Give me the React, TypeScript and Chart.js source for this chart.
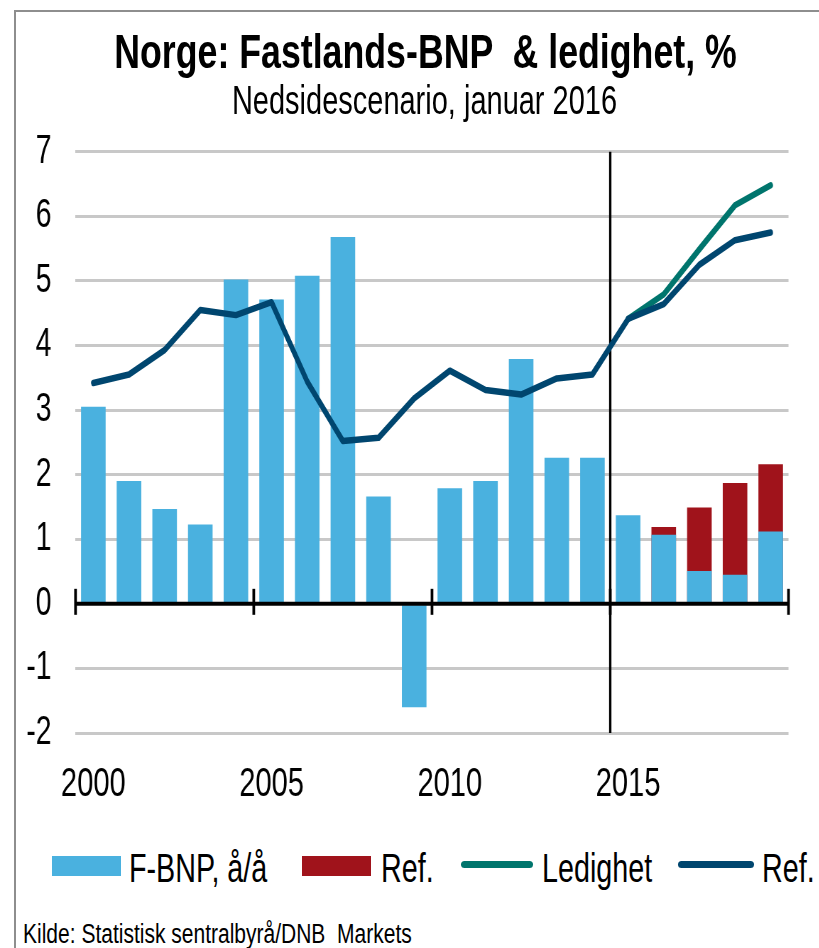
import React, { useEffect, useRef } from "react";
import { Chart, registerables } from "chart.js";

Chart.register(...registerables);

// ---- data ----
const years = [
  "2000", "2001", "2002", "2003", "2004", "2005", "2006", "2007", "2008", "2009",
  "2010", "2011", "2012", "2013", "2014", "2015", "2016", "2017", "2018", "2019",
];
const gdpGrowth = [
  3.05, 1.9, 1.47, 1.23, 5.02, 4.71, 5.08, 5.68, 1.66, -1.6,
  1.79, 1.9, 3.79, 2.26, 2.26, 1.37, 1.07, 0.51, 0.45, 1.12,
];
const gdpGrowthRef = [
  null, null, null, null, null, null, null, null, null, null,
  null, null, null, null, null, null, 1.19, 1.49, 1.87, 2.16,
];
const unemployment = [
  null, null, null, null, null, null, null, null, null, null,
  null, null, null, null, null, 4.41, 4.79, 5.49, 6.17, 6.48,
];
const unemploymentRef = [
  3.42, 3.55, 3.93, 4.55, 4.47, 4.67, 3.44, 2.52, 2.57, 3.18,
  3.61, 3.31, 3.24, 3.49, 3.55, 4.41, 4.64, 5.25, 5.63, 5.75,
];
const labelYears = ["2000", "2005", "2010", "2015"];
const forecastStart = "2015";
const yMin = -2;
const yMax = 7;
const yStep = 1;

const titleText = "Norge: Fastlands-BNP  & ledighet, %";
const subtitleText = "Nedsidescenario, januar 2016";
const sourceText = "Kilde: Statistisk sentralbyrå/DNB  Markets";
const legendLabels = ["F-BNP, å/å", "Ref.", "Ledighet", "Ref."];

// ---- styles ----
const FONT = '"Liberation Sans", Arial, Helvetica, sans-serif';
const S = 0.71; // horizontal squeeze of the chart drawing
const CW = 1154;
const CH = 820;
const BLUE = "#4AB1DF";
const RED = "#A0131B";
const TEAL = "#00756D";
const NAVY = "#00466F";

const overlayPlugin = {
  id: "overlay",
  beforeDatasetsDraw(chart: any) {
    const { ctx, chartArea, scales } = chart;
    const x = scales.x;
    const idx = years.indexOf(forecastStart);
    const half = (x.getPixelForValue(1) - x.getPixelForValue(0)) / 2;
    const bx = x.getPixelForValue(idx) - half;
    ctx.save();
    ctx.strokeStyle = "#000";
    ctx.lineWidth = 3.3;
    ctx.beginPath();
    ctx.moveTo(bx, chartArea.top);
    ctx.lineTo(bx, chartArea.bottom);
    ctx.stroke();
    ctx.restore();
  },
  afterDatasetsDraw(chart: any) {
    const { ctx, chartArea, scales } = chart;
    const x = scales.x;
    const y = scales.y;
    const y0 = y.getPixelForValue(0);
    const half = (x.getPixelForValue(1) - x.getPixelForValue(0)) / 2;
    ctx.save();
    ctx.strokeStyle = "#000";
    ctx.lineWidth = 4;
    ctx.beginPath();
    ctx.moveTo(chartArea.left, y0);
    ctx.lineTo(chartArea.right, y0);
    ctx.stroke();
    ctx.lineWidth = 3.8;
    for (let i = 0; i <= years.length; i += 5) {
      const px =
        i < years.length
          ? x.getPixelForValue(i) - half
          : x.getPixelForValue(years.length - 1) + half;
      ctx.beginPath();
      ctx.moveTo(px, y0 - 15);
      ctx.lineTo(px, y0 + 11);
      ctx.stroke();
    }
    ctx.restore();
  },
};

function ChartCanvas() {
  const ref = useRef<HTMLCanvasElement | null>(null);
  useEffect(() => {
    if (!ref.current) return;
    const chart = new Chart(ref.current, {
      type: "bar",
      data: {
        labels: years,
        datasets: [
          {
            type: "bar",
            label: legendLabels[0],
            data: gdpGrowth,
            backgroundColor: BLUE,
            grouped: false,
            order: 2,
            categoryPercentage: 1,
            barPercentage: 0.69,
          } as any,
          {
            type: "bar",
            label: legendLabels[1],
            data: gdpGrowthRef,
            backgroundColor: RED,
            grouped: false,
            order: 3,
            categoryPercentage: 1,
            barPercentage: 0.69,
          } as any,
          {
            type: "line",
            label: legendLabels[2],
            data: unemployment,
            borderColor: TEAL,
            backgroundColor: TEAL,
            borderWidth: 6.5,
            pointRadius: 0,
            tension: 0,
            borderJoinStyle: "round",
            borderCapStyle: "round",
            order: 1,
          } as any,
          {
            type: "line",
            label: legendLabels[3],
            data: unemploymentRef,
            borderColor: NAVY,
            backgroundColor: NAVY,
            borderWidth: 6.5,
            pointRadius: 0,
            tension: 0,
            borderJoinStyle: "round",
            borderCapStyle: "round",
            order: 0,
          } as any,
        ],
      },
      options: {
        animation: false,
        responsive: true,
        maintainAspectRatio: false,
        layout: { padding: { top: 151.7, right: CW - 788.5 / S, bottom: 0, left: 0 } },
        plugins: {
          legend: { display: false },
          title: { display: false },
          tooltip: { enabled: false },
        },
        scales: {
          x: {
            type: "category",
            offset: true,
            grid: { display: false, drawTicks: false },
            border: { display: false },
            ticks: {
              autoSkip: false,
              maxRotation: 0,
              minRotation: 0,
              padding: 27,
              color: "#000",
              font: { family: FONT, size: 41 },
              callback: (_v: any, i: number) =>
                labelYears.includes(years[i]) ? years[i] : "",
            },
            afterFit: (scale: any) => {
              scale.height = CH - 733;
            },
          },
          y: {
            min: yMin,
            max: yMax,
            grid: {
              color: (c: any) => (c.tick && c.tick.value === 0 ? "rgba(0,0,0,0)" : "#C8C8C8"),
              lineWidth: 3,
              drawTicks: false,
            },
            border: { display: false },
            ticks: {
              stepSize: yStep,
              padding: 106.34 - 72.5,
              color: "#000",
              font: { family: FONT, size: 40 },
            },
            afterFit: (scale: any) => {
              scale.width = 75.5 / S;
            },
          },
        },
      },
      plugins: [overlayPlugin],
    });
    return () => chart.destroy();
  }, []);
  return <canvas ref={ref} />;
}

const textBase: React.CSSProperties = {
  position: "absolute",
  whiteSpace: "pre",
  color: "#000",
  fontFamily: FONT,
};

export default function App() {
  return (
    <div
      style={{
        position: "fixed",
        left: 0,
        top: 0,
        right: 0,
        bottom: 0,
        overflow: "hidden",
        background: "#fff",
        fontFamily: FONT,
      }}
    >
      <div
        style={{
          position: "absolute",
          left: 14,
          top: 10,
          width: 805,
          height: 938,
          borderTop: "2px solid #8E8E8E",
          borderLeft: "2px solid #8E8E8E",
          boxSizing: "border-box",
        }}
      />
      <div
        style={{
          position: "absolute",
          left: 0,
          top: 0,
          width: CW,
          height: CH,
          transform: `scaleX(${S})`,
          transformOrigin: "0 0",
        }}
      >
        <ChartCanvas />
      </div>
      <div
        style={{
          ...textBase,
          left: -200,
          width: 1251,
          top: 26.5,
          textAlign: "center",
          fontSize: 49,
          lineHeight: "49px",
          fontWeight: "bold",
          transform: "scaleX(0.729)",
          transformOrigin: "625.5px 0",
        }}
      >
        {titleText}
      </div>
      <div
        style={{
          ...textBase,
          left: -201,
          width: 1251,
          top: 79.6,
          textAlign: "center",
          fontSize: 41,
          lineHeight: "41px",
          transform: "scaleX(0.707)",
          transformOrigin: "625.5px 0",
        }}
      >
        {subtitleText}
      </div>
      {/* legend */}
      <div style={{ position: "absolute", left: 52.3, top: 856, width: 68.7, height: 20, background: BLUE }} />
      <div style={{ ...textBase, left: 129.3, top: 848, fontSize: 41, lineHeight: "41px", transform: "scaleX(0.70)", transformOrigin: "0 0" }}>
        {legendLabels[0]}
      </div>
      <div style={{ position: "absolute", left: 302.3, top: 856, width: 68.7, height: 20, background: RED }} />
      <div style={{ ...textBase, left: 380.7, top: 848, fontSize: 41, lineHeight: "41px", transform: "scaleX(0.70)", transformOrigin: "0 0" }}>
        {legendLabels[1]}
      </div>
      <div style={{ position: "absolute", left: 460.7, top: 860.5, width: 72.6, height: 7, borderRadius: 3.5, background: TEAL }} />
      <div style={{ ...textBase, left: 542.3, top: 848, fontSize: 41, lineHeight: "41px", transform: "scaleX(0.70)", transformOrigin: "0 0" }}>
        {legendLabels[2]}
      </div>
      <div style={{ position: "absolute", left: 678.3, top: 860.5, width: 75.7, height: 7, borderRadius: 3.5, background: NAVY }} />
      <div style={{ ...textBase, left: 762.3, top: 848, fontSize: 41, lineHeight: "41px", transform: "scaleX(0.70)", transformOrigin: "0 0" }}>
        {legendLabels[3]}
      </div>
      <div
        style={{
          ...textBase,
          left: 22.5,
          top: 921.1,
          fontSize: 27,
          lineHeight: "27px",
          transform: "scaleX(0.778)",
          transformOrigin: "0 0",
        }}
      >
        {sourceText}
      </div>
    </div>
  );
}
